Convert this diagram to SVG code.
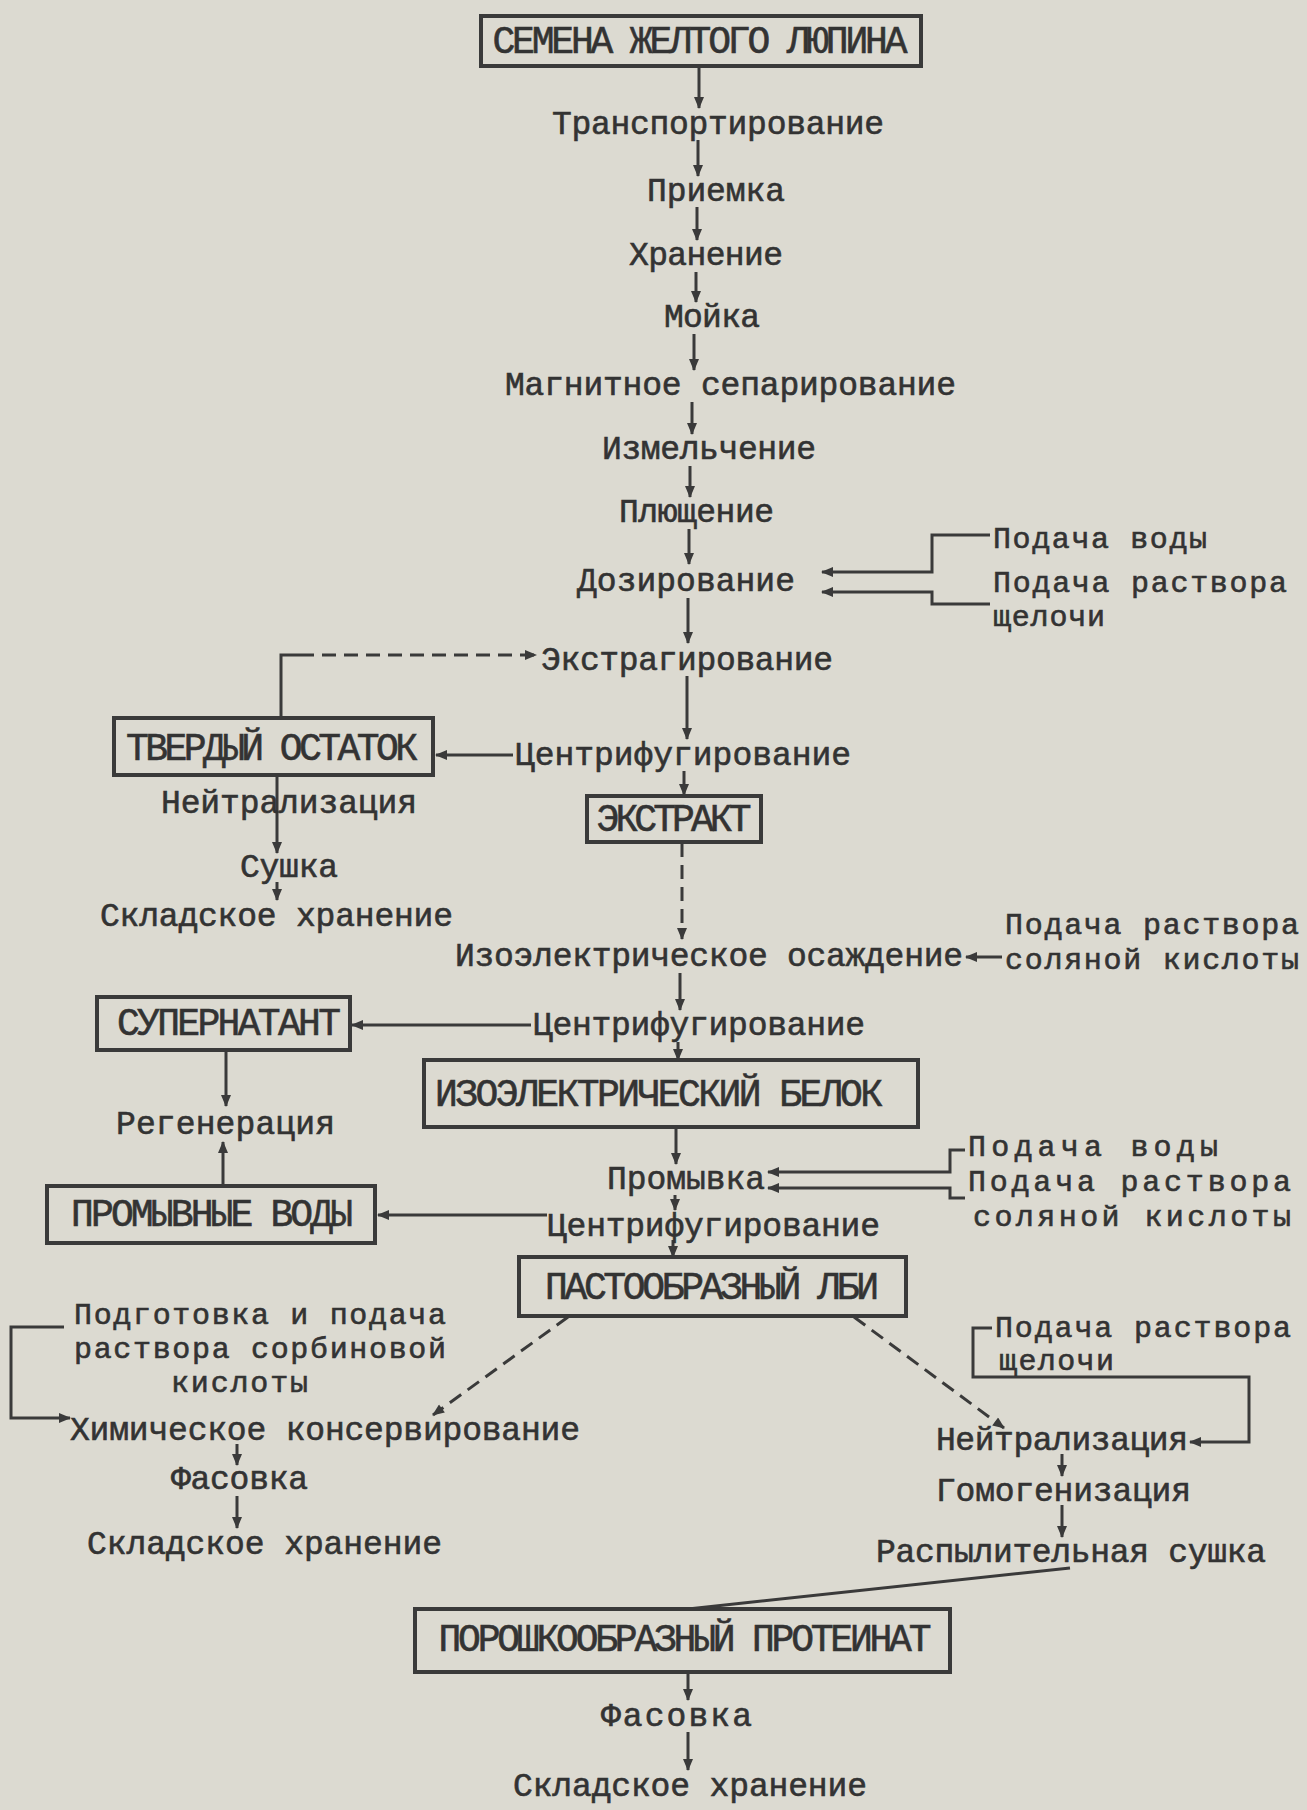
<svg xmlns="http://www.w3.org/2000/svg" width="1307" height="1810" viewBox="0 0 1307 1810">
<defs>
<style>
text{font-family:"Liberation Mono","DejaVu Sans Mono",monospace;fill:#333;font-size:33px;dominant-baseline:central;stroke:#333;stroke-width:0.6;lengthAdjust:spacingAndGlyphs}
.b{font-size:38px}
.s{font-size:30px}
.box{fill:none;stroke:#3a3a3a;stroke-width:4}
.ln{fill:none;stroke:#3a3a3a;stroke-width:3}
.ar{marker-end:url(#ah)}
.ds{stroke-dasharray:14 8}
</style>
<marker id="ah" viewBox="0 0 12 10" refX="11" refY="5" markerWidth="13" markerHeight="10" markerUnits="userSpaceOnUse" orient="auto"><path d="M0,0 L12,5 L0,10 z" fill="#3a3a3a"/></marker>
</defs>
<rect width="1307" height="1810" fill="#dcdad1"/>

<g id="connectors">
<line class="ln ar" x1="699" y1="66" x2="699" y2="108"/>
<line class="ln ar" x1="698" y1="140" x2="698" y2="176"/>
<line class="ln ar" x1="697" y1="207" x2="697" y2="240"/>
<line class="ln ar" x1="696" y1="272" x2="696" y2="302"/>
<line class="ln ar" x1="694" y1="334" x2="694" y2="370"/>
<line class="ln ar" x1="692" y1="402" x2="692" y2="434"/>
<line class="ln ar" x1="690" y1="466" x2="690" y2="497"/>
<line class="ln ar" x1="689" y1="529" x2="689" y2="564"/>
<line class="ln ar" x1="688" y1="598" x2="688" y2="643"/>
<line class="ln ar" x1="687" y1="676" x2="687" y2="739"/>
<line class="ln ar" x1="684" y1="771" x2="684" y2="795"/>
<line class="ln ar ds" x1="682" y1="843" x2="682" y2="939"/>
<line class="ln ar" x1="680" y1="973" x2="680" y2="1010"/>
<line class="ln ar" x1="678" y1="1042" x2="678" y2="1060"/>
<line class="ln ar" x1="676" y1="1128" x2="676" y2="1164"/>
<line class="ln ar" x1="675" y1="1195" x2="675" y2="1210"/>
<line class="ln ar" x1="673" y1="1240" x2="673" y2="1257"/>
<polyline class="ln ar" points="990,535 932,535 932,572 822,572"/>
<polyline class="ln ar" points="990,604 932,604 932,592 822,592"/>
<polyline class="ln" points="281,717 281,655 300,655"/>
<line class="ln ar ds" x1="300" y1="655" x2="536" y2="655"/>
<line class="ln ar" x1="513" y1="755" x2="436" y2="755"/>
<line class="ln ar" x1="277" y1="777" x2="277" y2="853"/>
<line class="ln ar" x1="277" y1="882" x2="277" y2="900"/>
<line class="ln ar" x1="1002" y1="957" x2="966" y2="957"/>
<line class="ln ar" x1="531" y1="1025" x2="352" y2="1025"/>
<line class="ln ar" x1="226" y1="1050" x2="226" y2="1106"/>
<line class="ln ar" x1="223" y1="1185" x2="223" y2="1142"/>
<polyline class="ln ar" points="965,1150 950,1150 950,1172 768,1172"/>
<polyline class="ln ar" points="965,1198 950,1198 950,1188 768,1188"/>
<line class="ln ar" x1="547" y1="1215" x2="378" y2="1215"/>
<line class="ln ar ds" x1="568" y1="1317" x2="433" y2="1415"/>
<line class="ln ar ds" x1="854" y1="1317" x2="1004" y2="1428"/>
<polyline class="ln ar" points="64,1327 11,1327 11,1418 70,1418"/>
<line class="ln ar" x1="237" y1="1444" x2="237" y2="1465"/>
<line class="ln ar" x1="237" y1="1496" x2="237" y2="1528"/>
<polyline class="ln ar" points="992,1328 973,1328 973,1377 1249,1377 1249,1442 1190,1442"/>
<line class="ln ar" x1="1062" y1="1454" x2="1062" y2="1476"/>
<line class="ln ar" x1="1062" y1="1505" x2="1062" y2="1537"/>
<line class="ln" x1="1070" y1="1568" x2="688" y2="1609"/>
<line class="ln ar" x1="688" y1="1673" x2="688" y2="1700"/>
<line class="ln ar" x1="688" y1="1732" x2="688" y2="1770"/>
</g>

<g id="n-seeds"><rect class="box" x="481" y="16" width="440" height="50"/><text class="b" x="700" y="42" text-anchor="middle" textLength="415">СЕМЕНА ЖЕЛТОГО ЛЮПИНА</text></g>
<g id="n-transport"><text x="552" y="125" textLength="332">Транспортирование</text></g>
<g id="n-priemka"><text x="647" y="192" textLength="138">Приемка</text></g>
<g id="n-hranenie"><text x="629" y="256" textLength="154">Хранение</text></g>
<g id="n-moika"><text x="664" y="318" textLength="96">Мойка</text></g>
<g id="n-magnit"><text x="505" y="386" textLength="451">Магнитное сепарирование</text></g>
<g id="n-izmelch"><text x="602" y="450" textLength="214">Измельчение</text></g>
<g id="n-plush"><text x="619" y="513" textLength="155">Плющение</text></g>
<g id="n-doz"><text x="577" y="582" textLength="218">Дозирование</text></g>
<g id="n-voda1"><text class="s" x="993" y="540" textLength="214">Подача воды</text></g>
<g id="n-alk1"><text class="s" x="993" y="584" textLength="294">Подача раствора</text><text class="s" x="993" y="618" textLength="112">щелочи</text></g>
<g id="n-extr"><text x="541" y="661" textLength="292">Экстрагирование</text></g>
<g id="n-cf1"><text x="515" y="756" textLength="336">Центрифугирование</text></g>
<g id="n-solid"><rect class="box" x="114" y="718" width="319" height="57"/><text class="b" x="272" y="749" text-anchor="middle" textLength="292">ТВЕРДЫЙ ОСТАТОК</text></g>
<g id="n-neutr1"><text x="161" y="804" textLength="256">Нейтрализация</text></g>
<g id="n-dry1"><text x="240" y="868" textLength="98">Сушка</text></g>
<g id="n-store1"><text x="100" y="917" textLength="353">Складское хранение</text></g>
<g id="n-extract"><rect class="box" x="587" y="796" width="174" height="46"/><text class="b" x="674" y="820" text-anchor="middle" textLength="155">ЭКСТРАКТ</text></g>
<g id="n-iep"><text x="455" y="957" textLength="508">Изоэлектрическое осаждение</text></g>
<g id="n-hcl1"><text class="s" x="1005" y="926" textLength="294">Подача раствора</text><text class="s" x="1005" y="961" textLength="294">соляной кислоты</text></g>
<g id="n-cf2"><text x="533" y="1026" textLength="332">Центрифугирование</text></g>
<g id="n-super"><rect class="box" x="97" y="997" width="253" height="53"/><text class="b" x="229" y="1024" text-anchor="middle" textLength="224">СУПЕРНАТАНТ</text></g>
<g id="n-regen"><text x="116" y="1125" textLength="219">Регенерация</text></g>
<g id="n-iebelok"><rect class="box" x="424" y="1060" width="494" height="67"/><text class="b" x="659" y="1095" text-anchor="middle" textLength="448">ИЗОЭЛЕКТРИЧЕСКИЙ БЕЛОК</text></g>
<g id="n-promyvka"><text x="607" y="1180" textLength="158">Промывка</text></g>
<g id="n-voda2"><text class="s" x="968" y="1148" textLength="250">Подача воды</text></g>
<g id="n-hcl2"><text class="s" x="968" y="1183" textLength="323">Подача раствора</text><text class="s" x="973" y="1218" textLength="318">соляной кислоты</text></g>
<g id="n-cf3"><text x="547" y="1227" textLength="333">Центрифугирование</text></g>
<g id="n-wash"><rect class="box" x="47" y="1186" width="328" height="57"/><text class="b" x="212" y="1215" text-anchor="middle" textLength="282">ПРОМЫВНЫЕ ВОДЫ</text></g>
<g id="n-paste"><rect class="box" x="519" y="1257" width="387" height="59"/><text class="b" x="712" y="1288" text-anchor="middle" textLength="334">ПАСТООБРАЗНЫЙ ЛБИ</text></g>
<g id="n-sorb"><text class="s" x="74" y="1316" textLength="372">Подготовка и подача</text><text class="s" x="74" y="1350" textLength="372">раствора сорбиновой</text><text class="s" x="171" y="1384" textLength="137">кислоты</text></g>
<g id="n-chem"><text x="70" y="1431" textLength="510">Химическое консервирование</text></g>
<g id="n-pack1"><text x="171" y="1480" textLength="137">Фасовка</text></g>
<g id="n-store2"><text x="87" y="1545" textLength="355">Складское хранение</text></g>
<g id="n-alk2"><text class="s" x="995" y="1329" textLength="296">Подача раствора</text><text class="s" x="999" y="1362" textLength="115">щелочи</text></g>
<g id="n-neutr2"><text x="936" y="1441" textLength="252">Нейтрализация</text></g>
<g id="n-homog"><text x="936" y="1492" textLength="255">Гомогенизация</text></g>
<g id="n-spray"><text x="876" y="1553" textLength="390">Распылительная сушка</text></g>
<g id="n-powder"><rect class="box" x="415" y="1609" width="535" height="63"/><text class="b" x="685" y="1640" text-anchor="middle" textLength="493">ПОРОШКООБРАЗНЫЙ ПРОТЕИНАТ</text></g>
<g id="n-pack2"><text x="601" y="1717" textLength="151">Фасовка</text></g>
<g id="n-store3"><text x="513" y="1787" textLength="354">Складское хранение</text></g>
</svg>
